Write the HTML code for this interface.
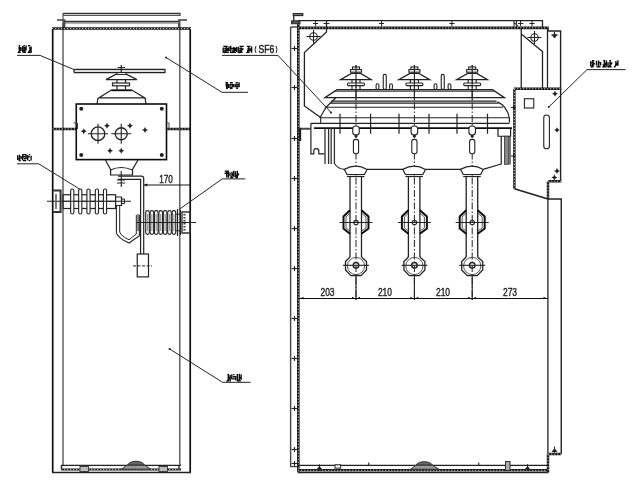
<!DOCTYPE html>
<html><head><meta charset="utf-8">
<style>
html,body{margin:0;padding:0;background:#fff;width:640px;height:481px;overflow:hidden}
svg{display:block}
text{font-family:"Liberation Sans",sans-serif}
</style></head><body>
<svg width="640" height="481" viewBox="0 0 640 481">
<defs><filter id="soft" x="0" y="0" width="640" height="481" filterUnits="userSpaceOnUse"><feGaussianBlur stdDeviation="0.35"/></filter></defs>
<rect width="640" height="481" fill="#fff"/>
<g filter="url(#soft)">
<path d="M63 13.5H180.5" stroke="#333" stroke-width="1.3" fill="none" />
<path d="M63 15.5H180.5" stroke="#555" stroke-width="1.1" fill="none" />
<path d="M180 13.5V15.5" stroke="#444" stroke-width="1.2" fill="none" />
<path d="M63 21.3H180" stroke="#333" stroke-width="1.3" fill="none" />
<path d="M63 22.9H180" stroke="#999" stroke-width="1.8" fill="none" />
<path d="M63 13.3V28" stroke="#555" stroke-width="1.2" fill="none" />
<path d="M57 20H64.5V28" stroke="#444" stroke-width="1.6" fill="none" />
<path d="M178 20H187" stroke="#444" stroke-width="1.6" fill="none" />
<path d="M63.5 23V28M179 23V28" stroke="#444" stroke-width="2.0" fill="none" />
<path d="M52.7 28.5V472.5" stroke="#111" stroke-width="1.7" fill="none" />
<path d="M190.2 28.5V472.5" stroke="#111" stroke-width="1.7" fill="none" />
<path d="M63 28V465.5" stroke="#555" stroke-width="1.4" fill="none" />
<path d="M179.8 21V465.5" stroke="#555" stroke-width="1.4" fill="none" />
<path d="M52 28.5H191" stroke="#181818" stroke-width="2.6" fill="none"/>
<path d="M52 28.5H191" stroke="#d4d4d4" stroke-width="0.9" stroke-dasharray="1.3 1.7" fill="none"/>
<path d="M52.7 129H76.5M166.5 129H190.2" stroke="#181818" stroke-width="2.4" fill="none"/>
<path d="M52.7 129H76.5M166.5 129H190.2" stroke="#d4d4d4" stroke-width="0.9" stroke-dasharray="1.3 1.7" fill="none"/>
<path d="M61 465.3H181" stroke="#222" stroke-width="1.3" fill="none" />
<path d="M61 469.5H181" stroke="#181818" stroke-width="2.2" fill="none"/>
<path d="M61 469.5H181" stroke="#d4d4d4" stroke-width="0.8" stroke-dasharray="1.3 1.7" fill="none"/>
<path d="M52 472.5H191" stroke="#222" stroke-width="1.6" fill="none" />
<path d="M127.5 465.2C129.5 460 142.5 460 144.5 465.2Z" fill="#666" stroke="#333" stroke-width="1"/>
<path d="M121.5 469.2H150.5L145 465.2H127Z" fill="#999" stroke="#333" stroke-width="1"/>
<rect x="80" y="466.5" width="8.5" height="5" fill="#bbb" stroke="#333" stroke-width="0.9"/>
<rect x="159" y="466.5" width="8.5" height="5" fill="#bbb" stroke="#333" stroke-width="0.9"/>
<path d="M61.5 465.3V469.5M179 465.3V469.5" stroke="#333" stroke-width="1.5" fill="none" />
<path d="M75 69.4H165V72.6H74.5Q73 71 75 69.4Z" stroke="#222" stroke-width="1.2" fill="#ddd"/>
<path d="M121.25 65V77M117.5 67.5H125" stroke="#222" stroke-width="1.2" fill="none" />
<path d="M115.6 74.4H126.6L137 79.6H106Z" stroke="#222" stroke-width="1.2" fill="#fff"/>
<path d="M117 79.4V89.4M125.5 79.4V89.4" stroke="#222" stroke-width="1.2" fill="none" />
<rect x="112.5" y="83" width="17" height="2.8" stroke="#222" stroke-width="1.2" fill="#fff"/>
<rect x="117" y="72.5" width="9" height="1.9" stroke="#222" stroke-width="1" fill="#fff"/>
<path d="M111.3 90H131.8L144.8 97.9H98.8Z" stroke="#222" stroke-width="1.2" fill="#fff"/>
<path d="M111.3 90.4H131.8" stroke="#111" stroke-width="1.6" fill="none" />
<path d="M98 98L97 104M145 98L146 104" stroke="#222" stroke-width="1.2" fill="none" />
<rect x="76.25" y="104" width="90.25" height="55.6" stroke="#111" stroke-width="1.6" fill="none"/>
<path d="M73.5 123H77.5V129M165.5 123H169V129" stroke="#444" stroke-width="1.0" fill="none" />
<circle cx="98" cy="133.75" r="6.8" stroke="#222" stroke-width="1.3" fill="none"/>
<path d="M88 133.75H108M98 123.75V143.75" stroke="#222" stroke-width="1.1" fill="none" />
<circle cx="121.25" cy="133.75" r="6.0" stroke="#222" stroke-width="1.3" fill="none"/>
<path d="M111.25 133.75H131.25M121.25 123.75V143.75" stroke="#222" stroke-width="1.1" fill="none" />
<circle cx="81.25" cy="108.75" r="2" fill="#222"/>
<circle cx="161.75" cy="108.75" r="2" fill="#222"/>
<circle cx="81.25" cy="155" r="2" fill="#222"/>
<circle cx="161.75" cy="155" r="2" fill="#222"/>
<path d="M83.75 128.25L84.75 130.25L86.75 131.25L84.75 132.25L83.75 134.25L82.75 132.25L80.75 131.25L82.75 130.25Z" fill="#222"/>
<path d="M107 122.75L108 124.75L110 125.75L108 126.75L107 128.75L106 126.75L104 125.75L106 124.75Z" fill="#222"/>
<path d="M130 122.75L131 124.75L133 125.75L131 126.75L130 128.75L129 126.75L127 125.75L129 124.75Z" fill="#222"/>
<path d="M145 127L146 129L148 130L146 131L145 133L144 131L142 130L144 129Z" fill="#222"/>
<path d="M110 147.75L111 149.75L113 150.75L111 151.75L110 153.75L109 151.75L107 150.75L109 149.75Z" fill="#222"/>
<path d="M121.25 147.75L122.25 149.75L124.25 150.75L122.25 151.75L121.25 153.75L120.25 151.75L118.25 150.75L120.25 149.75Z" fill="#222"/>
<path d="M105.4 160L110.6 169.4V175H132.5V169.4L138 160" stroke="#222" stroke-width="1.2" fill="none" />
<path d="M110.6 170Q121 165 132.5 170" stroke="#222" stroke-width="1.2" fill="none" />
<path d="M121.25 171V187" stroke="#222" stroke-width="1.1" fill="none" />
<path d="M117 180H125M117 183H125" stroke="#222" stroke-width="1.1" fill="none" />
<path d="M118 176.2H141.5Q143.7 176.2 143.7 178.5V254" stroke="#222" stroke-width="1.2" fill="none" />
<path d="M118 179.4H140.6V254" stroke="#222" stroke-width="1.2" fill="none" />
<rect x="63" y="194.75" width="52.6" height="13.75" stroke="#222" stroke-width="1.2" fill="none"/>
<path d="M47 201.25H131" stroke="#222" stroke-width="1.0" fill="none" />
<path d="M53.2 190.6H60.6V212H53.2" stroke="#333" stroke-width="2.0" fill="none" />
<path d="M56 194V209" stroke="#555" stroke-width="1.5" fill="none" />
<rect x="70.65" y="189" width="3.2" height="25" rx="1.6" stroke="#222" stroke-width="1.1" fill="#fff"/>
<rect x="78.65" y="189" width="3.2" height="25" rx="1.6" stroke="#222" stroke-width="1.1" fill="#fff"/>
<rect x="86.9" y="189" width="3.2" height="25" rx="1.6" stroke="#222" stroke-width="1.1" fill="#fff"/>
<rect x="95.30000000000001" y="189" width="3.2" height="25" rx="1.6" stroke="#222" stroke-width="1.1" fill="#fff"/>
<rect x="103.4" y="189" width="3.2" height="25" rx="1.6" stroke="#222" stroke-width="1.1" fill="#fff"/>
<path d="M63 201.25H115.6" stroke="#222" stroke-width="1.0" fill="none" />
<path d="M115.6 197H121.5V205.5H115.6" stroke="#222" stroke-width="1.2" fill="none" />
<path d="M121.5 199H124.5V203.5H121.5" stroke="#222" stroke-width="1.0" fill="none" />
<path d="M116.4 205V232.8Q118 238 129 243L139.4 235.6V215" stroke="#222" stroke-width="1.1" fill="none" />
<path d="M119.7 205V232Q121 236 129 239.8L136.3 234V215" stroke="#222" stroke-width="1.0" fill="none" />
<path d="M138.2 214V231" stroke="#777" stroke-width="2.0" fill="none" />
<path d="M145 214.2H181M145 230.8H181" stroke="#333" stroke-width="1.0" fill="none" />
<rect x="145.7" y="210.6" width="3.6" height="23.8" rx="1.8" stroke="#222" stroke-width="1.1" fill="#fff"/>
<path d="M147.5 214V231" stroke="#999" stroke-width="1.2" fill="none" />
<rect x="150.1" y="210.6" width="3.6" height="23.8" rx="1.8" stroke="#222" stroke-width="1.1" fill="#fff"/>
<path d="M151.9 214V231" stroke="#999" stroke-width="1.2" fill="none" />
<rect x="154.5" y="210.6" width="3.6" height="23.8" rx="1.8" stroke="#222" stroke-width="1.1" fill="#fff"/>
<path d="M156.3 214V231" stroke="#999" stroke-width="1.2" fill="none" />
<rect x="158.89999999999998" y="210.6" width="3.6" height="23.8" rx="1.8" stroke="#222" stroke-width="1.1" fill="#fff"/>
<path d="M160.7 214V231" stroke="#999" stroke-width="1.2" fill="none" />
<rect x="163.29999999999998" y="210.6" width="3.6" height="23.8" rx="1.8" stroke="#222" stroke-width="1.1" fill="#fff"/>
<path d="M165.1 214V231" stroke="#999" stroke-width="1.2" fill="none" />
<rect x="167.7" y="210.6" width="3.6" height="23.8" rx="1.8" stroke="#222" stroke-width="1.1" fill="#fff"/>
<path d="M169.5 214V231" stroke="#999" stroke-width="1.2" fill="none" />
<rect x="172.1" y="210.6" width="3.6" height="23.8" rx="1.8" stroke="#222" stroke-width="1.1" fill="#fff"/>
<path d="M173.9 214V231" stroke="#999" stroke-width="1.2" fill="none" />
<path d="M177.5 209V236M180.5 210V235" stroke="#222" stroke-width="1.2" fill="none" />
<path d="M136 222.5H196" stroke="#222" stroke-width="1.0" fill="none" />
<path d="M182 212H190V233H182Z" stroke="#333" stroke-width="1.3" fill="none" />
<path d="M184.5 214V231" stroke="#444" stroke-width="2.2" fill="none" stroke-dasharray="1.5 1.5"/>
<rect x="137.25" y="254" width="11.25" height="22.9" stroke="#222" stroke-width="1.2" fill="none"/>
<path d="M133 265.9H152" stroke="#222" stroke-width="1.0" fill="none" stroke-dasharray="3 1.5"/>
<path d="M144.4 185H190" stroke="#111" stroke-width="1.1" fill="none" />
<path d="M147.5 184.2L144.4 185L147.5 185.8" stroke="#222" stroke-width="1.2" fill="none" />
<text x="166" y="183.2" font-size="10" text-anchor="middle" fill="#222" stroke="#222" stroke-width="0.35" transform="translate(166 183.2) scale(0.82 1) translate(-166 -183.2)">170</text>
<path d="M18.8 45.8H20.2M18.2 48.0H20.6M18.7 50.2H21.2M18.8 52.3H20.7M19.5 46.1V51.3M21.1 47.3V50.8M18.0 53.0L21.0 48.2" stroke="#111" stroke-width="1.4" fill="none"/>
<path d="M23.3 45.8H24.9M22.8 48.0H25.7M22.8 50.2H25.6M22.8 52.3H26.0M22.7 46.1V52.3M24.5 47.0V51.7M26.1 45.4V50.6" stroke="#111" stroke-width="1.4" fill="none"/>
<path d="M28.0 45.8H30.2M28.9 48.0H30.7M28.0 52.3H30.4M31.1 46.4V52.9M28.0 53.0L31.0 48.2" stroke="#111" stroke-width="1.4" fill="none"/>
<path d="M17 55.4H40L75 70" stroke="#222" stroke-width="1.0" fill="none" />
<path d="M17.6 158.7H20.0M18.5 160.6H20.8M17.7 155.2V160.0M19.5 154.8V160.4M21.1 156.0V159.2" stroke="#111" stroke-width="1.4" fill="none"/>
<path d="M22.9 154.6H26.2M23.2 156.7H25.8M23.8 158.7H25.5M22.9 160.6H26.3M22.7 154.1V160.2M26.1 154.2V159.3" stroke="#111" stroke-width="1.4" fill="none"/>
<path d="M28.9 154.6H30.2M28.0 156.7H29.8M28.6 160.6H30.2M27.7 155.0V160.2M31.1 155.7V160.5" stroke="#111" stroke-width="1.4" fill="none"/>
<path d="M17 163.8H38.7L80.3 189.5" stroke="#222" stroke-width="1.0" fill="none" />
<path d="M225.4 82.8H228.0M225.5 84.7H228.5M225.8 86.5H228.2M226.1 88.3H227.9M226.7 83.3V88.7M228.4 83.8V87.9" stroke="#111" stroke-width="1.4" fill="none"/>
<path d="M229.9 82.8H232.8M230.3 84.7H233.9M231.0 88.3H232.6M230.0 83.9V88.2M233.8 84.0V87.2M230.4 89.0L233.6 84.8" stroke="#111" stroke-width="1.4" fill="none"/>
<path d="M235.5 82.8H237.8M236.2 84.7H238.8M235.8 86.5H238.7M236.1 88.3H237.9M235.4 84.0V87.2M239.1 82.3V87.2" stroke="#111" stroke-width="1.4" fill="none"/>
<path d="M248 92.3H222L166 57.5" stroke="#222" stroke-width="1.0" fill="none" />
<circle cx="166" cy="57.5" r="1" fill="#222"/>
<path d="M224.7 171.1H228.0M224.6 173.3H228.0M226.7 171.6V177.6M228.4 170.6V177.8" stroke="#111" stroke-width="1.4" fill="none"/>
<path d="M230.3 177.6H233.0M230.0 172.4V176.2M232.0 171.8V176.7M233.8 170.7V177.2M230.4 178.3L233.6 173.5" stroke="#111" stroke-width="1.4" fill="none"/>
<path d="M235.6 175.5H237.8M236.6 177.6H237.9M235.4 171.3V176.9M237.3 170.7V177.6M235.7 178.3L238.9 173.5" stroke="#111" stroke-width="1.4" fill="none"/>
<path d="M245.2 178.9H222.3L179 209.5" stroke="#222" stroke-width="1.0" fill="none" />
<path d="M227.3 374.6H229.1M227.6 378.9H230.4M227.7 380.9H229.3M228.3 374.9V381.0M230.2 375.1V381.6M226.7 381.6L230.0 376.9" stroke="#111" stroke-width="1.4" fill="none"/>
<path d="M233.1 374.6H234.6M232.9 376.8H235.7M231.8 378.9H235.9M231.8 374.3V379.3M235.7 376.0V380.3" stroke="#111" stroke-width="1.4" fill="none"/>
<path d="M238.7 374.6H240.3M237.7 380.9H241.1M237.3 374.0V380.9M239.3 373.8V380.0M241.2 374.5V379.7M237.7 381.6L241.0 376.9" stroke="#111" stroke-width="1.4" fill="none"/>
<path d="M250.6 382.3H222.5L169.7 349" stroke="#222" stroke-width="1.0" fill="none" />
<circle cx="169.7" cy="349" r="1.1" fill="#222"/>
<path d="M290.6 27V466.6H298" stroke="#444" stroke-width="1.4" fill="none" />
<path d="M290.6 27H298" stroke="#222" stroke-width="1.2" fill="none" />
<path d="M298.3 20.6V472.3" stroke="#181818" stroke-width="2.6" fill="none"/>
<path d="M298.3 20.6V472.3" stroke="#d4d4d4" stroke-width="0.9" stroke-dasharray="1.3 1.7" fill="none"/>
<path d="M298 20.6H542.5V27.9" stroke="#222" stroke-width="1.3" fill="none" />
<path d="M298 27.9H548.75" stroke="#181818" stroke-width="2.6" fill="none"/>
<path d="M298 27.9H548.75" stroke="#d4d4d4" stroke-width="0.9" stroke-dasharray="1.3 1.7" fill="none"/>
<path d="M298 470.3H548.5" stroke="#181818" stroke-width="2.4" fill="none"/>
<path d="M298 470.3H548.5" stroke="#d4d4d4" stroke-width="0.8" stroke-dasharray="1.3 1.7" fill="none"/>
<path d="M298 472.6H548.5" stroke="#222" stroke-width="1.4" fill="none" />
<path d="M298 465.3H548" stroke="#222" stroke-width="1.3" fill="none" />
<rect x="293.2" y="13.6" width="9.6" height="2" fill="#888" stroke="#222" stroke-width="1.1"/>
<path d="M293.7 15.5V21" stroke="#333" stroke-width="1.4" fill="none" />
<rect x="291.5" y="20.8" width="8.5" height="3" fill="#555" stroke="#222" stroke-width="0.9"/>
<path d="M291.5 48.5H298" stroke="#222" stroke-width="1.1" fill="none" />
<path d="M294.5 46.0V51.0" stroke="#222" stroke-width="1.1" fill="none" />
<path d="M291.5 87.5H298" stroke="#222" stroke-width="1.1" fill="none" />
<path d="M294.5 85.0V90.0" stroke="#222" stroke-width="1.1" fill="none" />
<path d="M291.5 138.5H298" stroke="#222" stroke-width="1.1" fill="none" />
<path d="M294.5 136.0V141.0" stroke="#222" stroke-width="1.1" fill="none" />
<path d="M291.5 178.5H298" stroke="#222" stroke-width="1.1" fill="none" />
<path d="M294.5 176.0V181.0" stroke="#222" stroke-width="1.1" fill="none" />
<path d="M291.5 228.5H298" stroke="#222" stroke-width="1.1" fill="none" />
<path d="M294.5 226.0V231.0" stroke="#222" stroke-width="1.1" fill="none" />
<path d="M291.5 268.5H298" stroke="#222" stroke-width="1.1" fill="none" />
<path d="M294.5 266.0V271.0" stroke="#222" stroke-width="1.1" fill="none" />
<path d="M291.5 318.5H298" stroke="#222" stroke-width="1.1" fill="none" />
<path d="M294.5 316.0V321.0" stroke="#222" stroke-width="1.1" fill="none" />
<path d="M291.5 358.5H298" stroke="#222" stroke-width="1.1" fill="none" />
<path d="M294.5 356.0V361.0" stroke="#222" stroke-width="1.1" fill="none" />
<path d="M291.5 408.5H298" stroke="#222" stroke-width="1.1" fill="none" />
<path d="M294.5 406.0V411.0" stroke="#222" stroke-width="1.1" fill="none" />
<path d="M291.5 449.5H298" stroke="#222" stroke-width="1.1" fill="none" />
<path d="M294.5 447.0V452.0" stroke="#222" stroke-width="1.1" fill="none" />
<path d="M291.5 463.5H298" stroke="#222" stroke-width="1.1" fill="none" />
<path d="M294.5 461.0V466.0" stroke="#222" stroke-width="1.1" fill="none" />
<path d="M514 21V27M516.5 21V27M513.5 22L518 26" stroke="#333" stroke-width="1.1" fill="none" />
<path d="M313.0 23.5H318.20000000000005M315.6 20.9V26.1" stroke="#222" stroke-width="1.0" fill="none"/>
<path d="M378.9 23.5H384.1M381.5 20.9V26.1" stroke="#222" stroke-width="1.0" fill="none"/>
<path d="M449.29999999999995 23.5H454.5M451.9 20.9V26.1" stroke="#222" stroke-width="1.0" fill="none"/>
<path d="M518.0 23.5H523.2M520.6 20.9V26.1" stroke="#222" stroke-width="1.0" fill="none"/>
<path d="M529.4 23.5H534.6M532 20.9V26.1" stroke="#222" stroke-width="1.0" fill="none"/>
<path d="M548 28V31H560.6V181.2" stroke="#222" stroke-width="1.4" fill="none" />
<path d="M548 181.2H561.25M548 181.2V199" stroke="#181818" stroke-width="2.4" fill="none"/>
<path d="M548 181.2H561.25M548 181.2V199" stroke="#d4d4d4" stroke-width="0.9" stroke-dasharray="1.3 1.7" fill="none"/>
<path d="M548 199H561.25V454" stroke="#222" stroke-width="1.4" fill="none" />
<path d="M547.9 199V454" stroke="#222" stroke-width="1.3" fill="none" />
<path d="M548 454H561.25M548 454V472.5" stroke="#181818" stroke-width="2.4" fill="none"/>
<path d="M548 454H561.25M548 454V472.5" stroke="#d4d4d4" stroke-width="0.9" stroke-dasharray="1.3 1.7" fill="none"/>
<path d="M551.5 35H557.5M554.5 32V38" stroke="#222" stroke-width="1.3" fill="none"/>
<path d="M554.5 33.8L555.5 35L556.7 36L555.5 37L554.5 38.2L553.5 37L552.3 36L553.5 35Z" fill="#222"/>
<path d="M521.25 28V88.75M547.5 28V88.75M542.5 52V88.75M521.25 34L543 52" stroke="#222" stroke-width="1.3" fill="none" />
<circle cx="534.5" cy="37.5" r="3.7" stroke="#222" stroke-width="1.1" fill="none"/>
<path d="M527.5 37.5H541.5M534.5 31V44" stroke="#222" stroke-width="1.0" fill="none" />
<path d="M514 88.75H561.25M514.4 88.75V188.75" stroke="#181818" stroke-width="2.4" fill="none"/>
<path d="M514 88.75H561.25M514.4 88.75V188.75" stroke="#d4d4d4" stroke-width="0.9" stroke-dasharray="1.3 1.7" fill="none"/>
<path d="M514.4 188.75L548 199" stroke="#222" stroke-width="1.8" fill="none" />
<rect x="524.4" y="98.75" width="9.35" height="9.25" stroke="#222" stroke-width="1.1" fill="none"/>
<rect x="543.75" y="115" width="5.65" height="33.75" rx="2.8" stroke="#222" stroke-width="1.1" fill="none"/>
<path d="M555 90.75L556 92.75L558 93.75L556 94.75L555 96.75L554 94.75L552 93.75L554 92.75Z" fill="#222"/>
<path d="M557 168L558 170L560 171L558 172L557 174L556 172L554 171L556 170Z" fill="#222"/>
<path d="M554.4 174.5L555.4 176.5L557.4 177.5L555.4 178.5L554.4 180.5L553.4 178.5L551.4 177.5L553.4 176.5Z" fill="#222"/>
<path d="M557 127.2L558 129L559.8 130L558 131L557 132.8L556 131L554.2 130L556 129Z" fill="#222"/>
<path d="M511.0 107.5H516.0M513.5 105.0V110.0" stroke="#222" stroke-width="1.1" fill="none"/>
<path d="M511.0 156H516.0M513.5 153.5V158.5" stroke="#222" stroke-width="1.1" fill="none"/>
<path d="M591.9 60.8H594.2M590.5 62.9H593.9M591.8 64.9H594.4M591.0 66.8H593.7M590.7 60.9V66.3M592.9 60.4V66.3M591.1 67.5L594.6 63.0" stroke="#111" stroke-width="1.4" fill="none"/>
<path d="M597.7 62.9H600.2M597.6 64.9H599.4M596.4 66.8H600.5M596.5 60.7V65.4M598.6 60.5V66.0M600.6 62.1V65.5" stroke="#111" stroke-width="1.4" fill="none"/>
<path d="M603.2 60.8H605.2M602.6 64.9H605.5M603.0 66.8H606.4M604.4 60.3V66.0M606.4 60.4V66.4M602.6 67.5L606.1 63.0" stroke="#111" stroke-width="1.4" fill="none"/>
<path d="M609.2 60.8H611.1M609.1 62.9H612.3M609.3 64.9H611.2M608.4 66.8H611.6M608.0 62.2V67.4M610.1 61.7V66.6M608.4 67.5L611.9 63.0" stroke="#111" stroke-width="1.4" fill="none"/>
<path d="M615.0 64.9H617.3M615.9 61.1V65.9M617.9 60.2V65.8M614.1 67.5L617.6 63.0" stroke="#111" stroke-width="1.4" fill="none"/>
<path d="M625.6 69.6H587L548.75 107" stroke="#222" stroke-width="1.0" fill="none" />
<circle cx="548.75" cy="107" r="1" fill="#222"/>
<path d="M326.5 20.6V32L304.4 52.5V106L320.7 117.5" stroke="#222" stroke-width="1.3" fill="none" />
<path d="M323.5 23.5H329.5" stroke="#222" stroke-width="1.0" fill="none" />
<circle cx="313.5" cy="36.5" r="3.8" stroke="#222" stroke-width="1.1" fill="none"/>
<path d="M306.5 36.5H320.5M313.5 30V43.5" stroke="#222" stroke-width="1.0" fill="none" />
<path d="M223.3 46.4H227.8M224.2 48.5H228.5M224.1 50.5H229.2M223.2 52.4H229.1M223.2 47.5V52.8M226.2 47.0V51.0M229.1 46.5V50.9M224.0 53.1L228.5 48.6" stroke="#111" stroke-width="1.4" fill="none"/>
<path d="M230.8 48.5H236.5M232.3 50.5H236.4M231.9 52.4H236.0M230.7 45.7V53.0M233.8 47.1V52.1M236.6 46.9V52.1M231.5 53.1L236.0 48.6" stroke="#111" stroke-width="1.4" fill="none"/>
<path d="M239.6 46.4H243.8M239.2 48.5H242.3M238.6 50.5H242.1M238.9 52.4H242.6M238.2 46.7V53.0M241.2 47.3V51.8M239.0 53.1L243.5 48.6" stroke="#111" stroke-width="1.4" fill="none"/>
<path d="M246.8 46.4H250.5M247.4 48.5H249.7M247.0 50.5H251.7M247.0 52.4H249.6M248.8 46.5V51.6M251.6 46.6V52.7M246.5 53.1L251.0 48.6" stroke="#111" stroke-width="1.4" fill="none"/>
<text x="266.5" y="53.2" font-size="10.5" text-anchor="middle" fill="#222" stroke="#222" stroke-width="0.5" transform="translate(266.5 53.2) scale(0.82 1) translate(-266.5 -53.2)">SF6</text>
<path d="M256 46Q254 49.5 256 53M276 46Q278 49.5 276 53" stroke="#222" stroke-width="1.0" fill="none" />
<path d="M222 55.4H278L331 112.5" stroke="#222" stroke-width="1.0" fill="none" />
<circle cx="331" cy="112.5" r="1.1" fill="#222"/>
<path d="M337 89.75H492.5L504.4 97.6H325Z" stroke="#222" stroke-width="1.3" fill="none" />
<path d="M335 91.3H494.5" stroke="#444" stroke-width="1.0" fill="none" />
<path d="M335.6 98L326 107.25H503M331 101.1H496.5M330 103.2H498.5" stroke="#222" stroke-width="1.2" fill="none" />
<path d="M497.5 101.9Q507 106 509.4 118V122.5" stroke="#222" stroke-width="1.2" fill="none" />
<path d="M326 107.25L320 117.75" stroke="#222" stroke-width="1.2" fill="none" />
<path d="M319.4 117.75H509.4" stroke="#222" stroke-width="1.2" fill="none" />
<path d="M310.9 123.3H509.4" stroke="#222" stroke-width="1.2" fill="none" />
<path d="M314 128.1H512" stroke="#111" stroke-width="1.9" fill="none" />
<path d="M498 128.3V136.25H510.6V128.3" stroke="#222" stroke-width="1.2" fill="none" />
<path d="M501.25 136V164.4M510 136V164.4" stroke="#222" stroke-width="1.2" fill="none" />
<rect x="504.4" y="136.25" width="4.3" height="28" fill="#888" stroke="#333" stroke-width="0.8"/>
<path d="M310.9 123.3V153.9H313.8V151.2A2.5 2.5 0 0 1 318.8 151.2V153.9H324.5" stroke="#222" stroke-width="1.2" fill="none" />
<path d="M320.7 117.5V123.3" stroke="#222" stroke-width="1.1" fill="none" />
<path d="M325 128.3V164M328.6 128.3V164M331.2 128.3V164M334.4 128.3V164" stroke="#333" stroke-width="1.3" fill="none" />
<path d="M298 128.75H310.6" stroke="#444" stroke-width="2.0" fill="none" />
<path d="M300 127.8V141" stroke="#222" stroke-width="2.4" fill="none" />
<path d="M340 113.75V133.75" stroke="#222" stroke-width="1.2" fill="none" />
<path d="M370.6 113.75V133.75" stroke="#222" stroke-width="1.2" fill="none" />
<path d="M399 113.75V133.75" stroke="#222" stroke-width="1.2" fill="none" />
<path d="M429 113.75V133.75" stroke="#222" stroke-width="1.2" fill="none" />
<path d="M457 113.75V133.75" stroke="#222" stroke-width="1.2" fill="none" />
<path d="M487.5 113.75V133.75" stroke="#222" stroke-width="1.2" fill="none" />
<path d="M334.4 163.5Q338 169 344.4 169.4M367 169.4H403M425 169.4H461M483 169.4L501.25 164" stroke="#222" stroke-width="1.1" fill="none" />
<path d="M356 65V300" stroke="#222" stroke-width="1.0" fill="none" stroke-dasharray="7 2 1.5 2"/>
<rect x="352.5" y="67" width="7" height="2.4" stroke="#222" stroke-width="1.1" fill="#fff"/>
<rect x="350.5" y="69.6" width="11" height="2.6" stroke="#222" stroke-width="1.1" fill="#fff"/>
<path d="M351.5 73.4H360.5L371.3 79.7H340.4Z" stroke="#222" stroke-width="1.2" fill="#fff"/>
<path d="M352 79.8V89.5M360 79.8V89.5" stroke="#222" stroke-width="1.1" fill="none" />
<rect x="347.5" y="83" width="17" height="2.6" rx="1" stroke="#222" stroke-width="1.1" fill="#fff"/>
<path d="M356 65V100" stroke="#222" stroke-width="1.1" fill="none" />
<rect x="352.7" y="126" width="6.6" height="9" rx="3" stroke="#222" stroke-width="1.1" fill="#fff"/>
<circle cx="356" cy="136" r="1.6" fill="#222"/>
<rect x="353.4" y="139.4" width="5.2" height="14.4" rx="2.2" stroke="#222" stroke-width="1.1" fill="#fff"/>
<path d="M344.4 169.4Q356 163 367 169.4L364.5 174.5H347Z" stroke="#222" stroke-width="1.2" fill="#fff"/>
<path d="M347 176.5H364.5" stroke="#222" stroke-width="1.2" fill="none" />
<path d="M350 176.5V257M361.5 176.5V257" stroke="#222" stroke-width="1.3" fill="none" />
<path d="M350 210.3L343.5 216.5V228.5L350 233.75M361.5 210.3L368.5 216.5V228.5L361.5 233.75" stroke="#111" stroke-width="2.0" fill="none" />
<path d="M350 213L346 217V228L350 231M361.5 213L366 217V228L361.5 231" stroke="#444" stroke-width="0.9" fill="none" />
<path d="M339.5 222.5H372.5" stroke="#222" stroke-width="1.0" fill="none" />
<circle cx="356" cy="222.5" r="2.2" stroke="#222" stroke-width="1.1" fill="none"/>
<path d="M350 257L345.5 261.5V270L351 275.6H361L366.5 270V261.5L361.5 257" stroke="#222" stroke-width="1.3" fill="none"/>
<circle cx="356" cy="266" r="8.6" stroke="#444" stroke-width="0.9" fill="none"/>
<circle cx="356" cy="265.3" r="2.8" stroke="#222" stroke-width="1.4" fill="none"/>
<path d="M343 265.3H369" stroke="#222" stroke-width="1.1" fill="none" />
<path d="M356 275V300" stroke="#222" stroke-width="1.1" fill="none" />
<path d="M414.4 65V300" stroke="#222" stroke-width="1.0" fill="none" stroke-dasharray="7 2 1.5 2"/>
<rect x="410.9" y="67" width="7" height="2.4" stroke="#222" stroke-width="1.1" fill="#fff"/>
<rect x="408.9" y="69.6" width="11" height="2.6" stroke="#222" stroke-width="1.1" fill="#fff"/>
<path d="M409.9 73.4H418.9L429.7 79.7H398.79999999999995Z" stroke="#222" stroke-width="1.2" fill="#fff"/>
<path d="M410.4 79.8V89.5M418.4 79.8V89.5" stroke="#222" stroke-width="1.1" fill="none" />
<rect x="405.9" y="83" width="17" height="2.6" rx="1" stroke="#222" stroke-width="1.1" fill="#fff"/>
<path d="M414.4 65V100" stroke="#222" stroke-width="1.1" fill="none" />
<rect x="411.09999999999997" y="126" width="6.6" height="9" rx="3" stroke="#222" stroke-width="1.1" fill="#fff"/>
<circle cx="414.4" cy="136" r="1.6" fill="#222"/>
<rect x="411.79999999999995" y="139.4" width="5.2" height="14.4" rx="2.2" stroke="#222" stroke-width="1.1" fill="#fff"/>
<path d="M402.79999999999995 169.4Q414.4 163 425.4 169.4L422.9 174.5H405.4Z" stroke="#222" stroke-width="1.2" fill="#fff"/>
<path d="M405.4 176.5H422.9" stroke="#222" stroke-width="1.2" fill="none" />
<path d="M408.4 176.5V257M419.9 176.5V257" stroke="#222" stroke-width="1.3" fill="none" />
<path d="M408.4 210.3L401.9 216.5V228.5L408.4 233.75M419.9 210.3L426.9 216.5V228.5L419.9 233.75" stroke="#111" stroke-width="2.0" fill="none" />
<path d="M408.4 213L404.4 217V228L408.4 231M419.9 213L424.4 217V228L419.9 231" stroke="#444" stroke-width="0.9" fill="none" />
<path d="M397.9 222.5H430.9" stroke="#222" stroke-width="1.0" fill="none" />
<circle cx="414.4" cy="222.5" r="2.2" stroke="#222" stroke-width="1.1" fill="none"/>
<path d="M408.4 257L403.9 261.5V270L409.4 275.6H419.4L424.9 270V261.5L419.9 257" stroke="#222" stroke-width="1.3" fill="none"/>
<circle cx="414.4" cy="266" r="8.6" stroke="#444" stroke-width="0.9" fill="none"/>
<circle cx="414.4" cy="265.3" r="2.8" stroke="#222" stroke-width="1.4" fill="none"/>
<path d="M401.4 265.3H427.4" stroke="#222" stroke-width="1.1" fill="none" />
<path d="M414.4 275V300" stroke="#222" stroke-width="1.1" fill="none" />
<path d="M472.2 65V300" stroke="#222" stroke-width="1.0" fill="none" stroke-dasharray="7 2 1.5 2"/>
<rect x="468.7" y="67" width="7" height="2.4" stroke="#222" stroke-width="1.1" fill="#fff"/>
<rect x="466.7" y="69.6" width="11" height="2.6" stroke="#222" stroke-width="1.1" fill="#fff"/>
<path d="M467.7 73.4H476.7L487.5 79.7H456.59999999999997Z" stroke="#222" stroke-width="1.2" fill="#fff"/>
<path d="M468.2 79.8V89.5M476.2 79.8V89.5" stroke="#222" stroke-width="1.1" fill="none" />
<rect x="463.7" y="83" width="17" height="2.6" rx="1" stroke="#222" stroke-width="1.1" fill="#fff"/>
<path d="M472.2 65V100" stroke="#222" stroke-width="1.1" fill="none" />
<rect x="468.9" y="126" width="6.6" height="9" rx="3" stroke="#222" stroke-width="1.1" fill="#fff"/>
<circle cx="472.2" cy="136" r="1.6" fill="#222"/>
<rect x="469.59999999999997" y="139.4" width="5.2" height="14.4" rx="2.2" stroke="#222" stroke-width="1.1" fill="#fff"/>
<path d="M460.59999999999997 169.4Q472.2 163 483.2 169.4L480.7 174.5H463.2Z" stroke="#222" stroke-width="1.2" fill="#fff"/>
<path d="M463.2 176.5H480.7" stroke="#222" stroke-width="1.2" fill="none" />
<path d="M466.2 176.5V257M477.7 176.5V257" stroke="#222" stroke-width="1.3" fill="none" />
<path d="M466.2 210.3L459.7 216.5V228.5L466.2 233.75M477.7 210.3L484.7 216.5V228.5L477.7 233.75" stroke="#111" stroke-width="2.0" fill="none" />
<path d="M466.2 213L462.2 217V228L466.2 231M477.7 213L482.2 217V228L477.7 231" stroke="#444" stroke-width="0.9" fill="none" />
<path d="M455.7 222.5H488.7" stroke="#222" stroke-width="1.0" fill="none" />
<circle cx="472.2" cy="222.5" r="2.2" stroke="#222" stroke-width="1.1" fill="none"/>
<path d="M466.2 257L461.7 261.5V270L467.2 275.6H477.2L482.7 270V261.5L477.7 257" stroke="#222" stroke-width="1.3" fill="none"/>
<circle cx="472.2" cy="266" r="8.6" stroke="#444" stroke-width="0.9" fill="none"/>
<circle cx="472.2" cy="265.3" r="2.8" stroke="#222" stroke-width="1.4" fill="none"/>
<path d="M459.2 265.3H485.2" stroke="#222" stroke-width="1.1" fill="none" />
<path d="M472.2 275V300" stroke="#222" stroke-width="1.1" fill="none" />
<rect x="383.25" y="74.4" width="3" height="15" rx="1.5" stroke="#222" stroke-width="1.1" fill="#fff"/>
<rect x="441.25" y="74.4" width="3" height="15" rx="1.5" stroke="#222" stroke-width="1.1" fill="#fff"/>
<rect x="376.1" y="83.7" width="2.8" height="5.8" rx="1.4" stroke="#222" stroke-width="1.1" fill="#fff"/>
<rect x="389.6" y="83.7" width="2.8" height="5.8" rx="1.4" stroke="#222" stroke-width="1.1" fill="#fff"/>
<rect x="434.1" y="83.7" width="2.8" height="5.8" rx="1.4" stroke="#222" stroke-width="1.1" fill="#fff"/>
<rect x="448.1" y="83.7" width="2.8" height="5.8" rx="1.4" stroke="#222" stroke-width="1.1" fill="#fff"/>
<path d="M298.3 298.5H548" stroke="#111" stroke-width="1.1" fill="none" />
<path d="M300.0 298.5L303.5 296.8V299Z" fill="#111"/>
<path d="M356.5 298.5L360 296.8V299Z" fill="#111"/>
<path d="M414.9 298.5L418.4 296.8V299Z" fill="#111"/>
<path d="M472.7 298.5L476.2 296.8V299Z" fill="#111"/>
<path d="M355.5 298.5L352 296.8V299Z" fill="#111"/>
<path d="M413.9 298.5L410.4 296.8V299Z" fill="#111"/>
<path d="M471.7 298.5L468.2 296.8V299Z" fill="#111"/>
<path d="M547.0 298.5L543.5 296.8V299Z" fill="#111"/>
<text x="327.5" y="296.3" font-size="10" text-anchor="middle" fill="#222" stroke="#222" stroke-width="0.35" transform="translate(327.5 296.3) scale(0.85 1) translate(-327.5 -296.3)">203</text>
<text x="385" y="296.3" font-size="10" text-anchor="middle" fill="#222" stroke="#222" stroke-width="0.35" transform="translate(385 296.3) scale(0.85 1) translate(-385 -296.3)">210</text>
<text x="443" y="296.3" font-size="10" text-anchor="middle" fill="#222" stroke="#222" stroke-width="0.35" transform="translate(443 296.3) scale(0.85 1) translate(-443 -296.3)">210</text>
<text x="510" y="296.3" font-size="10" text-anchor="middle" fill="#222" stroke="#222" stroke-width="0.35" transform="translate(510 296.3) scale(0.85 1) translate(-510 -296.3)">273</text>
<path d="M416 465.2C418 460.5 430.5 460.5 432.5 465.2Z" fill="#666" stroke="#333" stroke-width="1"/>
<path d="M410.5 469.3H439L432.5 465.2H416Z" fill="#999" stroke="#333" stroke-width="1"/>
<rect x="335" y="464.8" width="5.6" height="3.4" fill="#fff" stroke="#333" stroke-width="1.1"/>
<rect x="505.5" y="461.5" width="4.5" height="9" fill="#aaa" stroke="#333" stroke-width="1"/>
<path d="M368.75 462.5V466" stroke="#222" stroke-width="1.1" fill="none" />
<path d="M478.75 462.5V466" stroke="#222" stroke-width="1.1" fill="none" />
<path d="M316.4 469.8L319.4 465.8L322.4 469.8Z" fill="#222"/>
<path d="M319.4 464.3V470.8" stroke="#222" stroke-width="1.0" fill="none" />
<path d="M524.5 469.8L527.5 465.8L530.5 469.8Z" fill="#222"/>
<path d="M527.5 464.3V470.8" stroke="#222" stroke-width="1.0" fill="none" />
<path d="M551.5 452.0L554.5 448.0L557.5 452.0Z" fill="#222"/>
<path d="M554.5 446.5V453.0" stroke="#222" stroke-width="1.0" fill="none" />
</g></svg>
</body></html>
